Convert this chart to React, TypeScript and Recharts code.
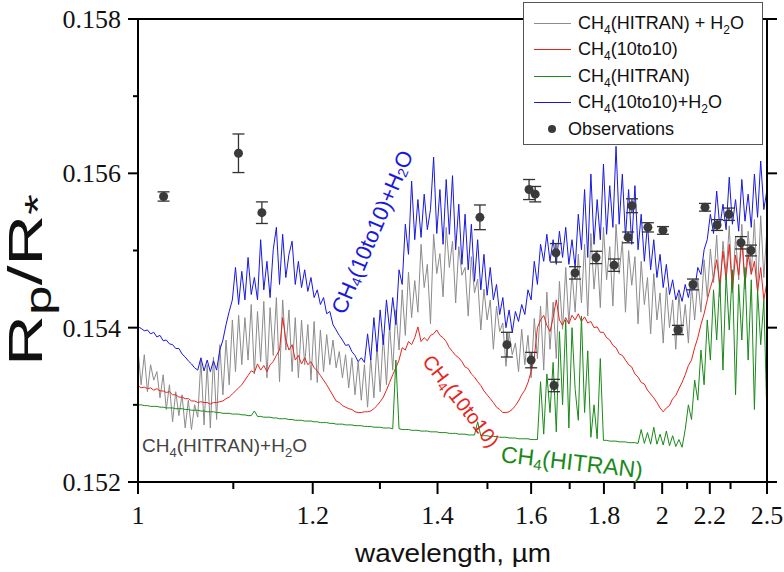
import React from "react";
import {
  ComposedChart,
  Line,
  Scatter,
  ErrorBar,
  XAxis,
  YAxis,
  ReferenceLine,
  Legend,
} from "recharts";

// grid of wavenumbers (1/µm); the x axis is linear in 1/λ, labelled in λ
const WAVENUMBER = [
  1, 0.997, 0.994, 0.991, 0.988, 0.985, 0.982, 0.979, 0.976, 0.973,
  0.97, 0.967, 0.964, 0.961, 0.958, 0.955, 0.952, 0.949, 0.946, 0.943,
  0.94, 0.937, 0.934, 0.931, 0.928, 0.925, 0.922, 0.919, 0.916, 0.913,
  0.91, 0.907, 0.904, 0.901, 0.898, 0.895, 0.892, 0.889, 0.886, 0.883,
  0.88, 0.877, 0.874, 0.871, 0.868, 0.865, 0.862, 0.859, 0.856, 0.853,
  0.85, 0.847, 0.844, 0.841, 0.838, 0.835, 0.832, 0.829, 0.826, 0.823,
  0.82, 0.817, 0.814, 0.811, 0.808, 0.805, 0.802, 0.799, 0.796, 0.793,
  0.79, 0.787, 0.784, 0.781, 0.778, 0.775, 0.772, 0.769, 0.766, 0.763,
  0.76, 0.757, 0.754, 0.751, 0.748, 0.745, 0.742, 0.739, 0.736, 0.733,
  0.73, 0.727, 0.724, 0.721, 0.718, 0.715, 0.712, 0.709, 0.706, 0.703,
  0.7, 0.697, 0.694, 0.691, 0.688, 0.685, 0.682, 0.679, 0.676, 0.673,
  0.67, 0.667, 0.664, 0.661, 0.658, 0.655, 0.652, 0.649, 0.646, 0.643,
  0.64, 0.637, 0.634, 0.631, 0.628, 0.625, 0.622, 0.619, 0.616, 0.613,
  0.61, 0.607, 0.604, 0.601, 0.598, 0.595, 0.592, 0.589, 0.586, 0.583,
  0.58, 0.577, 0.574, 0.571, 0.568, 0.565, 0.562, 0.559, 0.556, 0.553,
  0.55, 0.547, 0.544, 0.541, 0.538, 0.535, 0.532, 0.529, 0.526, 0.523,
  0.52, 0.517, 0.514, 0.511, 0.508, 0.505, 0.502, 0.499, 0.496, 0.493,
  0.49, 0.487, 0.484, 0.481, 0.478, 0.475, 0.472, 0.469, 0.466, 0.463,
  0.46, 0.457, 0.454, 0.451, 0.448, 0.445, 0.442, 0.439, 0.436, 0.433,
  0.43, 0.427, 0.424, 0.421, 0.418, 0.415, 0.412, 0.409, 0.406, 0.403,
  0.4,
];

// CH4(HITRAN) + H2O
const GRAY_HITRAN_H2O = [
  0.15371, 0.15326, 0.15365, 0.15317, 0.15352, 0.15332, 0.15343, 0.15309, 0.15339, 0.15294,
  0.15326, 0.15278, 0.15317, 0.15286, 0.15313, 0.1527, 0.15306, 0.15268, 0.153, 0.15284,
  0.15358, 0.15274, 0.15352, 0.1527, 0.15362, 0.15281, 0.15378, 0.15313, 0.15384, 0.15326,
  0.1541, 0.15343, 0.15416, 0.15352, 0.15413, 0.15358, 0.1543, 0.1534, 0.15421, 0.15356,
  0.15434, 0.15335, 0.15426, 0.15364, 0.15439, 0.1533, 0.15436, 0.15371, 0.15423, 0.15343,
  0.15413, 0.15335, 0.1541, 0.15352, 0.15404, 0.15332, 0.15408, 0.15329, 0.15397, 0.15343,
  0.15391, 0.15352, 0.15384, 0.15348, 0.15369, 0.15335, 0.15365, 0.15322, 0.15361, 0.15313,
  0.15356, 0.15306, 0.15352, 0.15297, 0.15361, 0.15309, 0.15378, 0.15317, 0.15391, 0.15326,
  0.15404, 0.15345, 0.15423, 0.15371, 0.15449, 0.1539, 0.15472, 0.15413, 0.15461, 0.1542,
  0.15508, 0.15452, 0.15482, 0.15405, 0.15521, 0.1547, 0.15496, 0.1544, 0.1553, 0.15478,
  0.15512, 0.15432, 0.15505, 0.15468, 0.15478, 0.15415, 0.15492, 0.15445, 0.15463, 0.15397,
  0.1545, 0.1541, 0.15436, 0.15372, 0.15428, 0.15395, 0.15406, 0.1535, 0.15393, 0.15365,
  0.1538, 0.15343, 0.15398, 0.15352, 0.1539, 0.15335, 0.15412, 0.1536, 0.15428, 0.15345,
  0.15446, 0.15372, 0.15433, 0.1536, 0.1546, 0.15398, 0.15478, 0.15405, 0.15472, 0.1542,
  0.15495, 0.15432, 0.15508, 0.15415, 0.15522, 0.1545, 0.155, 0.15426, 0.1553, 0.15462,
  0.15505, 0.15428, 0.15534, 0.1547, 0.15512, 0.1542, 0.155, 0.15455, 0.15492, 0.15405,
  0.15486, 0.1543, 0.15465, 0.15392, 0.1547, 0.1541, 0.15445, 0.1538, 0.15452, 0.154,
  0.15436, 0.15372, 0.15444, 0.15392, 0.1543, 0.1538, 0.15455, 0.1541, 0.15462, 0.1542,
  0.15488, 0.1544, 0.15502, 0.15458, 0.1552, 0.1544, 0.15512, 0.1547, 0.15532, 0.15445,
  0.15518, 0.15462, 0.15534, 0.1545, 0.15525, 0.1547, 0.1554, 0.15445, 0.15545, 0.15465,
  0.1553,
];

// CH4(10to10)
const RED_10TO10 = [
  0.15325, 0.15322, 0.15323, 0.15321, 0.15322, 0.15319, 0.15321, 0.15318, 0.15318, 0.15316,
  0.15317, 0.15313, 0.15313, 0.1531, 0.1531, 0.15308, 0.15308, 0.15305, 0.15305, 0.15303,
  0.15304, 0.15303, 0.15303, 0.15301, 0.15303, 0.15303, 0.15304, 0.15305, 0.15308, 0.1531,
  0.15314, 0.15318, 0.15322, 0.15326, 0.15332, 0.15338, 0.15344, 0.15342, 0.15353, 0.15345,
  0.15351, 0.15343, 0.15352, 0.15356, 0.15364, 0.15371, 0.15413, 0.15384, 0.15371, 0.15378,
  0.15358, 0.15364, 0.15353, 0.15361, 0.15352, 0.15356, 0.15348, 0.15344, 0.15338, 0.15332,
  0.15326, 0.15319, 0.15312, 0.15305, 0.15303, 0.15299, 0.15297, 0.15295, 0.15294, 0.15291,
  0.1529, 0.1529, 0.15291, 0.15291, 0.15292, 0.15295, 0.15299, 0.15304, 0.1531, 0.15319,
  0.15329, 0.15339, 0.15348, 0.15358, 0.15374, 0.15371, 0.15382, 0.15378, 0.15387, 0.15401,
  0.15382, 0.15387, 0.15383, 0.1539, 0.15392, 0.15397, 0.1539, 0.15387, 0.15382, 0.15374,
  0.15369, 0.15364, 0.15361, 0.15356, 0.15349, 0.15347, 0.1534, 0.15336, 0.1533, 0.15325,
  0.15318, 0.15313, 0.15308, 0.15303, 0.15297, 0.15294, 0.1529, 0.1529, 0.15291, 0.15294,
  0.15299, 0.15305, 0.15313, 0.15319, 0.15329, 0.15343, 0.15361, 0.154, 0.1541, 0.15416,
  0.15403, 0.15395, 0.15413, 0.15436, 0.1541, 0.15403, 0.15413, 0.15405, 0.15416, 0.1541,
  0.15418, 0.15408, 0.15414, 0.15406, 0.15408, 0.154, 0.15401, 0.15394, 0.15394, 0.15387,
  0.15384, 0.15377, 0.15374, 0.15366, 0.15364, 0.15358, 0.15352, 0.15349, 0.1534, 0.15336,
  0.15329, 0.15327, 0.15319, 0.15314, 0.15309, 0.15303, 0.15296, 0.15291, 0.15296, 0.15299,
  0.15308, 0.15312, 0.15321, 0.15329, 0.15339, 0.15351, 0.15358, 0.15374, 0.15387, 0.15404,
  0.15418, 0.15436, 0.15452, 0.15465, 0.15488, 0.15456, 0.15499, 0.15462, 0.15508, 0.15449,
  0.15494, 0.15468, 0.15514, 0.15456, 0.15495, 0.15469, 0.15486, 0.15447, 0.15478, 0.15436,
  0.1546,
];

// CH4(HITRAN)
const GREEN_HITRAN = [
  0.153, 0.153, 0.15299, 0.15299, 0.15298, 0.15298, 0.15298, 0.15297, 0.15297, 0.15296,
  0.15296, 0.15296, 0.15295, 0.15295, 0.15295, 0.15294, 0.15294, 0.15293, 0.15293, 0.15293,
  0.15292, 0.15292, 0.15291, 0.15291, 0.15291, 0.1529, 0.1529, 0.15289, 0.15289, 0.15289,
  0.15288, 0.15288, 0.15288, 0.15287, 0.15287, 0.15286, 0.15286, 0.15292, 0.15285, 0.15285,
  0.15284, 0.15284, 0.15284, 0.15283, 0.15283, 0.15282, 0.15282, 0.15282, 0.15281, 0.15281,
  0.1528, 0.1528, 0.1528, 0.15279, 0.15279, 0.15279, 0.15278, 0.15278, 0.15277, 0.15277,
  0.15277, 0.15276, 0.15276, 0.15275, 0.15275, 0.15275, 0.15274, 0.15274, 0.15274, 0.15273,
  0.15273, 0.15273, 0.15272, 0.15272, 0.15272, 0.15271, 0.15271, 0.15271, 0.1527, 0.1527,
  0.1527, 0.15269, 0.15358, 0.15269, 0.15268, 0.15268, 0.15268, 0.15267, 0.15267, 0.15267,
  0.15266, 0.15266, 0.15266, 0.15265, 0.15265, 0.15265, 0.15264, 0.15264, 0.15264, 0.15263,
  0.15263, 0.15263, 0.15262, 0.15262, 0.15262, 0.15261, 0.15261, 0.15261, 0.15278, 0.1526,
  0.1526, 0.1526, 0.15259, 0.15259, 0.15259, 0.15258, 0.15258, 0.15258, 0.15257, 0.15257,
  0.15257, 0.15256, 0.15256, 0.15256, 0.15256, 0.15255, 0.15255, 0.15255, 0.1533, 0.15262,
  0.1534, 0.1529, 0.15355, 0.15265, 0.15395, 0.153, 0.1541, 0.1527, 0.154, 0.1532,
  0.1528, 0.15415, 0.1529, 0.1537, 0.15258, 0.153, 0.15256, 0.1536, 0.15254, 0.15254,
  0.15253, 0.15253, 0.15253, 0.15252, 0.15252, 0.15252, 0.15251, 0.15251, 0.15251, 0.1525,
  0.15268, 0.1525, 0.15264, 0.15249, 0.15271, 0.15249, 0.15262, 0.15248, 0.15266, 0.15247,
  0.1526, 0.15246, 0.15255, 0.15245, 0.15268, 0.153, 0.15281, 0.15332, 0.15306, 0.15371,
  0.15326, 0.1541, 0.15358, 0.15449, 0.15384, 0.15462, 0.15345, 0.15469, 0.15397, 0.15475,
  0.15313, 0.15456, 0.15384, 0.15478, 0.15358, 0.15462, 0.15294, 0.15449, 0.15378, 0.15436,
  0.15281,
];

// CH4(10to10) + H2O
const BLUE_10TO10_H2O = [
  0.15401, 0.15399, 0.15396, 0.15397, 0.15392, 0.15394, 0.15388, 0.1539, 0.15383, 0.15384,
  0.15379, 0.15378, 0.15373, 0.15373, 0.15366, 0.15362, 0.15357, 0.15353, 0.15348, 0.15345,
  0.15361, 0.15344, 0.15358, 0.15343, 0.15357, 0.15345, 0.15371, 0.15384, 0.15404, 0.15421,
  0.15436, 0.15478, 0.1543, 0.15473, 0.15436, 0.15491, 0.15443, 0.15465, 0.15436, 0.15514,
  0.15449, 0.15486, 0.15439, 0.15501, 0.1553, 0.15456, 0.15521, 0.15465, 0.15495, 0.15512,
  0.15456, 0.15486, 0.15452, 0.15475, 0.15447, 0.15465, 0.15439, 0.15449, 0.1543, 0.15439,
  0.15418, 0.15421, 0.15404, 0.15397, 0.1539, 0.15384, 0.15377, 0.15378, 0.15369, 0.15364,
  0.15356, 0.15361, 0.15355, 0.15392, 0.15358, 0.15413, 0.15369, 0.15423, 0.15378, 0.15436,
  0.15397, 0.15439, 0.15404, 0.15475, 0.15456, 0.15534, 0.15495, 0.1559, 0.15514, 0.15566,
  0.15517, 0.15573, 0.15527, 0.15553, 0.15621, 0.15522, 0.15579, 0.15508, 0.15592, 0.15521,
  0.15597, 0.15501, 0.1556, 0.15482, 0.15547, 0.15475, 0.15534, 0.1546, 0.15514, 0.15449,
  0.15495, 0.15442, 0.15478, 0.15436, 0.15456, 0.15417, 0.15439, 0.154, 0.15423, 0.15394,
  0.15421, 0.15408, 0.1543, 0.15417, 0.15449, 0.15436, 0.15486, 0.15456, 0.15508, 0.15486,
  0.15521, 0.15486, 0.15514, 0.15482, 0.15525, 0.15491, 0.1553, 0.15482, 0.15514, 0.15478,
  0.15547, 0.15501, 0.15579, 0.15491, 0.15599, 0.15508, 0.15566, 0.15514, 0.15612, 0.15521,
  0.15584, 0.1553, 0.15635, 0.15534, 0.15599, 0.15517, 0.15579, 0.15508, 0.15584, 0.15501,
  0.15547, 0.15486, 0.15534, 0.15475, 0.15514, 0.15465, 0.15495, 0.15452, 0.15482, 0.15443,
  0.15462, 0.15436, 0.15449, 0.15434, 0.15456, 0.15439, 0.1546, 0.15449, 0.15478, 0.15469,
  0.15501, 0.15514, 0.15547, 0.15522, 0.15577, 0.1553, 0.1556, 0.15527, 0.15595, 0.15534,
  0.15566, 0.15525, 0.15592, 0.15538, 0.15573, 0.1553, 0.15599, 0.15543, 0.15616, 0.15553,
  0.15579,
];

// observations (wavelength in µm, Rp/R*, error)
const OBS_WAVELENGTH = [
  1.025, 1.106, 1.134, 1.484, 1.543, 1.595, 1.6, 1.61, 1.658, 1.663, 1.715, 1.776,
  1.832, 1.878, 1.891, 1.947, 2.003, 2.062, 2.125, 2.178, 2.234, 2.292, 2.354, 2.408,
];
const OBS_VALUE = [
  0.1557, 0.15626, 0.15549, 0.15543, 0.15378, 0.15579, 0.15358, 0.15573, 0.15325, 0.15497, 0.15471, 0.15491,
  0.15481, 0.15517, 0.15558, 0.1553, 0.15526, 0.15397, 0.15456, 0.15556, 0.15533, 0.15547, 0.1551, 0.155,
];
const OBS_ERROR = [
  0.00006, 0.00025, 0.00014, 0.00016, 0.00016, 0.00013, 0.0001, 0.0001, 0.00008, 0.00012, 0.00008, 0.00008,
  0.00008, 0.00007, 0.00009, 0.00006, 0.00005, 0.00006, 0.00007, 0.00005, 0.00007, 0.00008, 0.00008, 0.00007,
];

const MAJOR_WL = [1, 1.2, 1.4, 1.6, 1.8, 2, 2.2, 2.5];
const MINOR_WL = [1.1, 1.3, 1.5, 1.7, 1.9, 2.1, 2.3];
const Y_TICKS = [0.152, 0.153, 0.154, 0.155, 0.156, 0.157, 0.158];
const Y_MAJOR = [0.152, 0.154, 0.156, 0.158];

const GRAY = "#8c8c8c";
const RED = "#e8231c";
const GREEN = "#198a19";
const BLUE = "#1818e0";
const SANS = "'Liberation Sans', Arial, sans-serif";
const SERIF = "'Liberation Serif', 'Times New Roman', serif";

const spectra = WAVENUMBER.map((nu, i) => ({
  nu,
  gray: GRAY_HITRAN_H2O[i],
  red: RED_10TO10[i],
  green: GREEN_HITRAN[i],
  blue: BLUE_10TO10_H2O[i],
}));

const observations = OBS_WAVELENGTH.map((wl, i) => ({
  nu: 1 / wl,
  v: OBS_VALUE[i],
  err: OBS_ERROR[i],
}));

const xTicks = [...MAJOR_WL, ...MINOR_WL].map((wl) => 1 / wl);

function XTick({ x, y, payload }: any) {
  const wl = Math.round((1 / payload.value) * 10) / 10;
  const major = MAJOR_WL.includes(wl);
  return (
    <g>
      <line x1={x} y1={y} x2={x} y2={y + (major ? 12 : 7)} stroke="#000" strokeWidth={2} />
      {major && (
        <text x={x} y={y + 42} textAnchor="middle" fontFamily={SERIF} fontSize={26} fill="#111">
          {wl}
        </text>
      )}
    </g>
  );
}

function YTick({ x, y, payload }: any) {
  const major = Math.round(payload.value * 1000) % 2 === 0;
  return (
    <g>
      <line x1={x - (major ? 10 : 5)} y1={y} x2={x} y2={y} stroke="#000" strokeWidth={2} />
      {major && (
        <text x={x - 17} y={y + 9} textAnchor="end" fontFamily={SERIF} fontSize={26} fill="#111">
          {payload.value.toFixed(3)}
        </text>
      )}
    </g>
  );
}

function RightTick({ x, y }: any) {
  return <line x1={x} y1={y} x2={x + 10} y2={y} stroke="#000" strokeWidth={2} />;
}

const sub = (t: string) => <sub style={{ fontSize: 12, lineHeight: 0 }}>{t}</sub>;

const LEGEND_ROWS = [
  { color: GRAY, label: <>CH{sub("4")}(HITRAN) + H{sub("2")}O</> },
  { color: RED, label: <>CH{sub("4")}(10to10)</> },
  { color: GREEN, label: <>CH{sub("4")}(HITRAN)</> },
  { color: BLUE, label: <>CH{sub("4")}(10to10)+H{sub("2")}O</> },
  { color: null, label: <>Observations</> },
];

function LegendBox() {
  return (
    <div
      style={{
        position: "relative",
        width: 240,
        height: 143,
        boxSizing: "border-box",
        border: "1px solid #555",
        background: "#fff",
        fontFamily: SANS,
        fontSize: 18,
        color: "#111",
      }}
    >
      {LEGEND_ROWS.map((row, i) => (
        <div
          key={i}
          style={{
            position: "absolute",
            left: 0,
            top: 7 + i * 26.6,
            height: 26,
            width: 238,
            display: "flex",
            alignItems: "center",
          }}
        >
          {row.color ? (
            <div style={{ marginLeft: 10, width: 37, height: 0, borderTop: `1px solid ${row.color}` }} />
          ) : (
            <div style={{ marginLeft: 24, marginRight: 5, width: 8, height: 8, borderRadius: 4, background: "#3a3a3a" }} />
          )}
          <span style={{ marginLeft: 7, whiteSpace: "nowrap" }}>{row.label}</span>
        </div>
      ))}
    </div>
  );
}

export default function App() {
  return (
    <div style={{ position: "absolute", left: 0, top: 0, width: 784, height: 572, background: "#fff" }}>
      <ComposedChart
        width={784}
        height={572}
        data={spectra}
        margin={{ top: 19, right: 5, bottom: 40, left: 68 }}
      >
        <XAxis
          dataKey="nu"
          type="number"
          domain={[0.4, 1]}
          reversed
          allowDataOverflow
          ticks={xTicks}
          interval={0}
          tickSize={0}
          tickMargin={0}
          tickLine={false}
          tick={<XTick />}
          axisLine={{ stroke: "#000", strokeWidth: 2 }}
          height={50}
        />
        <YAxis
          yAxisId="left"
          type="number"
          domain={[0.152, 0.158]}
          allowDataOverflow
          ticks={Y_TICKS}
          interval={0}
          tickSize={0}
          tickMargin={0}
          tickLine={false}
          tick={<YTick />}
          axisLine={{ stroke: "#000", strokeWidth: 2 }}
          width={70}
        />
        <YAxis
          yAxisId="right"
          orientation="right"
          type="number"
          domain={[0.152, 0.158]}
          allowDataOverflow
          ticks={Y_MAJOR}
          interval={0}
          tickSize={0}
          tickMargin={0}
          tickLine={false}
          tick={<RightTick />}
          axisLine={{ stroke: "#000", strokeWidth: 2 }}
          width={12}
        />
        <ReferenceLine yAxisId="left" y={0.158} stroke="#000" strokeWidth={2} />
        <Line yAxisId="left" dataKey="gray" stroke={GRAY} strokeWidth={1} dot={false} activeDot={false} isAnimationActive={false} />
        <Line yAxisId="left" dataKey="red" stroke={RED} strokeWidth={1} dot={false} activeDot={false} isAnimationActive={false} />
        <Line yAxisId="left" dataKey="green" stroke={GREEN} strokeWidth={1} dot={false} activeDot={false} isAnimationActive={false} />
        <Line yAxisId="left" dataKey="blue" stroke={BLUE} strokeWidth={1} dot={false} activeDot={false} isAnimationActive={false} />
        <Scatter
          yAxisId="right"
          data={observations}
          dataKey="v"
          isAnimationActive={false}
          shape={(p: any) => <circle cx={p.cx} cy={p.cy} r={4.5} fill="#3a3a3a" />}
        >
          <ErrorBar dataKey="err" direction="y" width={6} stroke="#333" strokeWidth={1.3} />
        </Scatter>
        <Legend
          layout="vertical"
          align="center"
          verticalAlign="middle"
          content={() => <LegendBox />}
          wrapperStyle={{ left: 523, top: 2, width: 240, height: 143 }}
        />
      </ComposedChart>

      <svg
        width={784}
        height={572}
        style={{ position: "absolute", left: 0, top: 0, pointerEvents: "none" }}
      >
        <text
          transform="translate(42,280) rotate(-90)"
          textAnchor="middle"
          fontFamily={SANS}
          fontSize={48}
          fill="#111"
          textLength={172}
          lengthAdjust="spacingAndGlyphs"
        >
          R<tspan dy={9} fontSize={36}>p</tspan>
          <tspan dy={-9}>/R</tspan>
          <tspan dy={9} fontSize={36}>*</tspan>
        </text>
        <text
          x={453}
          y={562}
          textAnchor="middle"
          fontFamily={SANS}
          fontSize={25}
          fill="#111"
          textLength={196}
          lengthAdjust="spacingAndGlyphs"
        >
          wavelength, µm
        </text>
        <text
          transform="translate(372,232) rotate(-67)"
          textAnchor="middle"
          dominantBaseline="central"
          fontFamily={SANS}
          fontSize={22}
          fill={BLUE}
        >
          CH<tspan dy={5} fontSize={14}>4</tspan>
          <tspan dy={-5}>(10to10)+H</tspan>
          <tspan dy={5} fontSize={14}>2</tspan>
          <tspan dy={-5}>O</tspan>
        </text>
        <text
          transform="translate(461,401) rotate(52)"
          textAnchor="middle"
          dominantBaseline="central"
          fontFamily={SANS}
          fontSize={20}
          fill={RED}
        >
          CH<tspan dy={5} fontSize={13}>4</tspan>
          <tspan dy={-5}>(10to10)</tspan>
        </text>
        <text
          transform="translate(572,462) rotate(6.5)"
          textAnchor="middle"
          dominantBaseline="central"
          fontFamily={SANS}
          fontSize={23}
          fill={GREEN}
        >
          CH<tspan dy={6} fontSize={15}>4</tspan>
          <tspan dy={-6}>(HITRAN)</tspan>
        </text>
        <text x={142} y={452} fontFamily={SANS} fontSize={19} fill="#444">
          CH<tspan dy={5} fontSize={13}>4</tspan>
          <tspan dy={-5}>(HITRAN)+H</tspan>
          <tspan dy={5} fontSize={13}>2</tspan>
          <tspan dy={-5}>O</tspan>
        </text>
      </svg>
    </div>
  );
}
